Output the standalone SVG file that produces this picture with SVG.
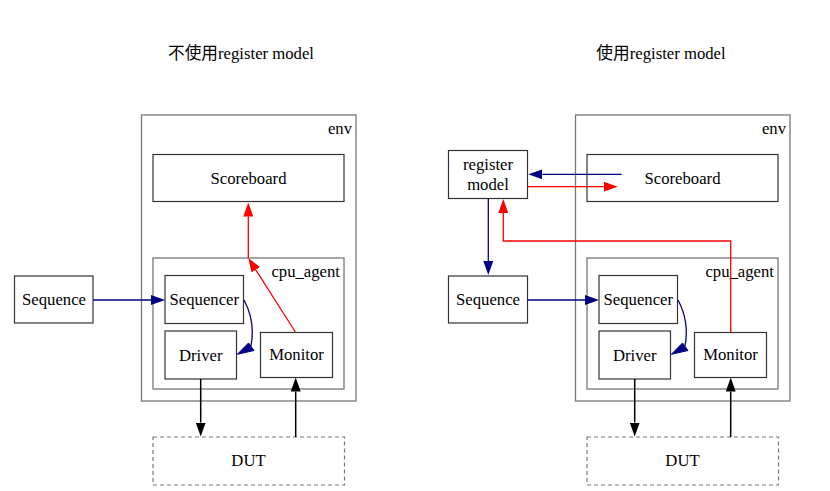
<svg xmlns="http://www.w3.org/2000/svg" width="830" height="491" viewBox="0 0 830 491">
<style>
text{font-family:"Liberation Serif","Noto Sans CJK SC",serif;font-size:16.7px;fill:#000}
.c{text-anchor:middle}
.e{text-anchor:end}
.cl{fill:none;stroke:#777;stroke-width:1.3}
.n{fill:#fff;stroke:#333;stroke-width:1.2}
.dut{fill:#fff;stroke:#777;stroke-width:1.2;stroke-dasharray:4,3}
.nv{fill:none;stroke:#000080;stroke-width:1.3}
.rd{fill:none;stroke:#f00;stroke-width:1.3}
.bk{fill:none;stroke:#000;stroke-width:1.5}
.hn{fill:#000080;stroke:#000080;stroke-width:1}
</style>
<defs>
<marker id="aN" markerUnits="userSpaceOnUse" viewBox="0 0 14 10" refX="0" refY="5" markerWidth="14" markerHeight="10" orient="auto"><path d="M0,0L14,5L0,10z" fill="#000080"/></marker>
<marker id="aR" markerUnits="userSpaceOnUse" viewBox="0 0 14 10" refX="0" refY="5" markerWidth="14" markerHeight="10" orient="auto"><path d="M0,0L14,5L0,10z" fill="#f00"/></marker>
<marker id="aB" markerUnits="userSpaceOnUse" viewBox="0 0 14 10" refX="0" refY="5" markerWidth="14" markerHeight="10" orient="auto"><path d="M0,0L14,5L0,10z" fill="#000"/></marker>
</defs>
<rect width="830" height="491" fill="#fff"/>
<text class="c" x="241" y="59">不使用register model</text>
<text class="c" x="661" y="59">使用register model</text>

<g id="left">
<g id="l-env"><rect class="cl" x="141.5" y="115" width="214.5" height="286"/><text class="e" x="352" y="134">env</text></g>
<g id="l-scoreboard"><rect class="n" x="153" y="154.5" width="191" height="47"/><text class="c" x="248.5" y="184">Scoreboard</text></g>
<g id="l-cpu_agent"><rect class="cl" x="153" y="258" width="191" height="131"/><text class="e" x="340" y="276.5">cpu_agent</text></g>
<g id="l-sequence"><rect class="n" x="14.5" y="276" width="78.5" height="47"/><text class="c" x="54" y="305">Sequence</text></g>
<g id="l-sequencer"><rect class="n" x="165" y="275.5" width="78.5" height="48"/><text class="c" x="204.3" y="305">Sequencer</text></g>
<g id="l-driver"><rect class="n" x="165" y="331" width="71.5" height="48"/><text class="c" x="200.7" y="361">Driver</text></g>
<g id="l-monitor"><rect class="n" x="260.5" y="332.5" width="72" height="45"/><text class="c" x="296.5" y="360">Monitor</text></g>
<g id="l-dut"><rect class="dut" x="153" y="437" width="191.5" height="48"/><text class="c" x="248.5" y="466">DUT</text></g>
</g>

<g id="right">
<g id="r-env"><rect class="cl" x="575.5" y="115" width="214.5" height="286"/><text class="e" x="786" y="134">env</text></g>
<g id="r-scoreboard"><rect class="n" x="587" y="154.5" width="191" height="47"/><text class="c" x="682.5" y="184">Scoreboard</text></g>
<g id="r-cpu_agent"><rect class="cl" x="587" y="258" width="191" height="131"/><text class="e" x="774" y="276.5">cpu_agent</text></g>
<g id="r-register_model"><rect class="n" x="448.5" y="150.5" width="79" height="48"/><text class="c" x="488" y="170">register</text><text class="c" x="488" y="190">model</text></g>
<g id="r-sequence"><rect class="n" x="448.5" y="276" width="79" height="47"/><text class="c" x="488" y="305">Sequence</text></g>
<g id="r-sequencer"><rect class="n" x="599" y="275.5" width="78.5" height="48"/><text class="c" x="638.3" y="305">Sequencer</text></g>
<g id="r-driver"><rect class="n" x="599" y="331" width="71.5" height="48"/><text class="c" x="634.7" y="361">Driver</text></g>
<g id="r-monitor"><rect class="n" x="694.5" y="332.5" width="72" height="45"/><text class="c" x="730.5" y="360">Monitor</text></g>
<g id="r-dut"><rect class="dut" x="587" y="437" width="191.5" height="48"/><text class="c" x="682.5" y="466">DUT</text></g>
</g>

<g id="connectors">
<line class="nv" x1="93" y1="300" x2="151" y2="300" marker-end="url(#aN)"/>
<path class="nv" d="M244,300C251,313 254,330 251,346"/>
<polygon class="hn" points="248.5,343 254,350.5 237.3,354.3"/>
<line class="rd" x1="295.7" y1="332.5" x2="255.8" y2="269.8" marker-end="url(#aR)"/>
<line class="rd" x1="248.3" y1="258" x2="248.3" y2="216.5" marker-end="url(#aR)"/>
<line class="bk" x1="200.7" y1="379" x2="200.7" y2="422.5" marker-end="url(#aB)"/>
<line class="bk" x1="295.7" y1="437" x2="295.7" y2="391.5" marker-end="url(#aB)"/>

<line class="nv" x1="621.7" y1="174.3" x2="542.3" y2="174.3" marker-end="url(#aN)"/>
<line class="rd" x1="527.5" y1="186.7" x2="603.7" y2="186.7" marker-end="url(#aR)"/>
<line class="nv" x1="488.3" y1="198.7" x2="488.3" y2="261" marker-end="url(#aN)"/>
<polyline class="rd" points="730.7,332.5 730.7,241 503.3,241 503.3,213" marker-end="url(#aR)"/>
<line class="nv" x1="527.5" y1="300" x2="585" y2="300" marker-end="url(#aN)"/>
<path class="nv" d="M678,300C685,313 688,330 685,346"/>
<polygon class="hn" points="682.5,343 688,350.5 671.3,354.3"/>
<line class="bk" x1="634.7" y1="379" x2="634.7" y2="422.5" marker-end="url(#aB)"/>
<line class="bk" x1="730.7" y1="437" x2="730.7" y2="391.5" marker-end="url(#aB)"/>
</g>
</svg>
